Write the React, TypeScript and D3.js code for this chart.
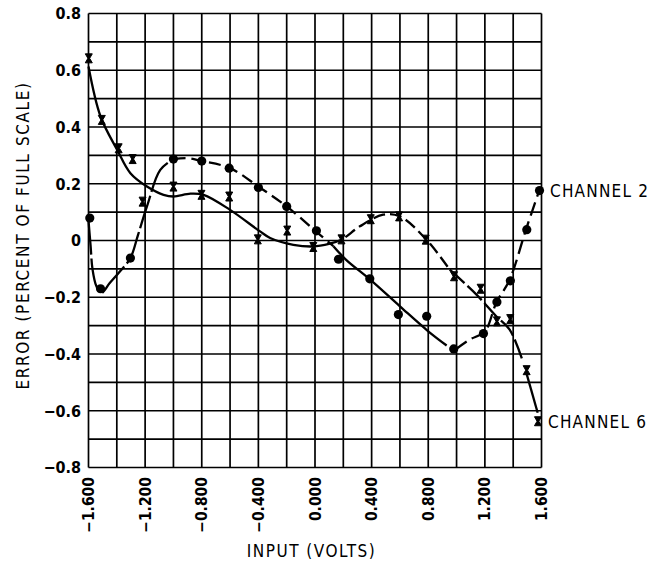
import React from "react";
import * as d3 from "d3";

// Measured points
const ch2Points: [number, number][] = [
  [-1.591, 0.079], [-1.515, -0.17], [-1.304, -0.062], [-1.0, 0.287], [-0.8, 0.28],
  [-0.606, 0.255], [-0.4, 0.187], [-0.2, 0.12], [0.01, 0.034], [0.166, -0.066],
  [0.387, -0.135], [0.589, -0.261], [0.789, -0.267], [0.98, -0.382], [1.19, -0.328],
  [1.285, -0.217], [1.38, -0.142], [1.496, 0.038], [1.586, 0.176],
];
const ch6Points: [number, number][] = [
  [-1.598, 0.642], [-1.506, 0.425], [-1.387, 0.325], [-1.288, 0.287], [-1.218, 0.137],
  [-1.0, 0.19], [-0.802, 0.161], [-0.606, 0.155], [-0.404, 0.004], [-0.196, 0.035],
  [-0.012, -0.023], [0.187, 0.004], [0.394, 0.075], [0.594, 0.085], [0.782, 0.003],
  [0.982, -0.126], [1.17, -0.17], [1.285, -0.285], [1.379, -0.277], [1.495, -0.457],
  [1.575, -0.637],
];

// Hand-drawn fitted curves, split into segments (dash patterns differ)
const ch2Curves: [number, number][][] = [
  [[-1.6, 0.07], [-1.585, -0.02], [-1.572, -0.1], [-1.545, -0.16], [-1.51, -0.185], [-1.45, -0.15],
   [-1.38, -0.11], [-1.304, -0.062], [-1.25, 0.02], [-1.187, 0.12], [-1.093, 0.249], [-1.0, 0.287]],
  [[-1.0, 0.287], [-0.9, 0.29], [-0.8, 0.28], [-0.6, 0.255], [-0.4, 0.19], [-0.2, 0.12], [0.0, 0.035], [0.13, -0.02]],
  [[0.13, -0.02], [0.22, -0.068], [0.39, -0.138], [0.6, -0.232], [0.8, -0.32], [0.93, -0.37]],
  [[0.99, -0.385], [1.09, -0.35], [1.2, -0.32], [1.28, -0.22], [1.375, -0.138], [1.49, 0.038], [1.586, 0.179]],
];
const ch6Curves: [number, number][][] = [
  [[-1.6, 0.613], [-1.515, 0.437], [-1.398, 0.32], [-1.304, 0.237], [-1.187, 0.19], [-1.07, 0.161],
   [-1.0, 0.155], [-0.88, 0.165], [-0.787, 0.161], [-0.6, 0.108], [-0.388, 0.032], [-0.317, 0.009],
   [-0.153, -0.015], [-0.012, -0.021], [0.105, -0.011]],
  [[0.105, -0.011], [0.187, 0.003], [0.317, 0.05], [0.481, 0.091], [0.6, 0.085], [0.787, 0.003], [0.952, -0.103]],
  [[0.952, -0.103], [1.139, -0.19], [1.28, -0.267], [1.375, -0.314], [1.468, -0.426]],
  [[1.495, -0.47], [1.573, -0.607]],
];
const ch2Dashes = ["34,4", "12,6", "none", "14,6"];
const ch6Dashes = ["none", "12,5", "20,4", "none"];

const xTicks = [-1.6, -1.2, -0.8, -0.4, 0, 0.4, 0.8, 1.2, 1.6];
const xTickLabels = ["\u22121.600", "\u22121.200", "\u22120.800", "\u22120.400", "0.000", "0.400", "0.800", "1.200", "1.600"];
const yTicks = [0.8, 0.6, 0.4, 0.2, 0, -0.2, -0.4, -0.6, -0.8];
const yTickLabels = ["0.8", "0.6", "0.4", "0.2", "0", "\u22120.2", "\u22120.4", "\u22120.6", "\u22120.8"];
const xGrid = d3.range(-16, 17, 2).map((v) => v / 10);
const yGrid = d3.range(-8, 9, 1).map((v) => v / 10);

const FONT = "'DejaVu Sans Condensed', 'DejaVu Sans', sans-serif";

export default function App() {
  const W = 651, H = 566;
  const x = d3.scaleLinear().domain([-1.6, 1.6]).range([88.5, 541.5]);
  const y = d3.scaleLinear().domain([-0.8, 0.8]).range([467.5, 13.5]);
  const line = d3.line<[number, number]>().x((d) => x(d[0])).y((d) => y(d[1])).curve(d3.curveCatmullRom.alpha(0.5));
  const hourglass = "M-3.5,-4.5 H3.5 L0.9,0 L3.5,4.5 H-3.5 L-0.9,0 Z";

  return (
    <svg width={W} height={H} style={{ position: "absolute", left: 0, top: 0, background: "#fff" }}>
      <rect x={0} y={0} width={W} height={H} fill="#fff" />
      {xGrid.map((v, i) => (
        <line key={"gx" + i} x1={x(v)} x2={x(v)} y1={y(0.8)} y2={y(-0.8)} stroke="#000" strokeWidth={1.7} />
      ))}
      {yGrid.map((v, i) => (
        <line key={"gy" + i} x1={x(-1.6)} x2={x(1.6)} y1={y(v)} y2={y(v)} stroke="#000" strokeWidth={1.7} />
      ))}
      {ch2Curves.map((seg, i) => (
        <path key={"c2" + i} d={line(seg) || ""} fill="none" stroke="#000" strokeWidth={2.3} strokeDasharray={ch2Dashes[i]} />
      ))}
      {ch6Curves.map((seg, i) => (
        <path key={"c6" + i} d={line(seg) || ""} fill="none" stroke="#000" strokeWidth={2.3} strokeDasharray={ch6Dashes[i]} />
      ))}
      {ch2Points.map((p, i) => (
        <circle key={"p2" + i} cx={x(p[0])} cy={y(p[1])} r={4.6} fill="#000" />
      ))}
      {ch6Points.map((p, i) => (
        <path key={"p6" + i} d={hourglass} transform={`translate(${x(p[0])},${y(p[1])})`} fill="#000" stroke="#000" strokeWidth={1} />
      ))}
      {yTicks.map((v, i) => (
        <text key={"yt" + i} x={81} y={y(v)} dy="0.36em" textAnchor="end" fontFamily={FONT} fontWeight="bold" fontSize={16}>
          {yTickLabels[i]}
        </text>
      ))}
      {xTicks.map((v, i) => (
        <text key={"xt" + i} transform={`translate(${x(v)},477) rotate(-90)`} dy="0.36em" textAnchor="end" fontFamily={FONT} fontWeight="bold" fontSize={15.5}>
          {xTickLabels[i]}
        </text>
      ))}
      <text transform="translate(23,235.5) rotate(-90)" textAnchor="middle" dy="0.36em" fontFamily={FONT} fontSize={17} letterSpacing={1.6}>
        ERROR (PERCENT OF FULL SCALE)
      </text>
      <text x={311.5} y={557} textAnchor="middle" fontFamily={FONT} fontSize={17} letterSpacing={1.5}>
        INPUT (VOLTS)
      </text>
      <text x={550} y={y(0.176)} dy="0.36em" fontFamily={FONT} fontSize={17} letterSpacing={1.2}>
        CHANNEL 2
      </text>
      <text x={548} y={y(-0.64)} dy="0.36em" fontFamily={FONT} fontSize={17} letterSpacing={1.2}>
        CHANNEL 6
      </text>
    </svg>
  );
}
